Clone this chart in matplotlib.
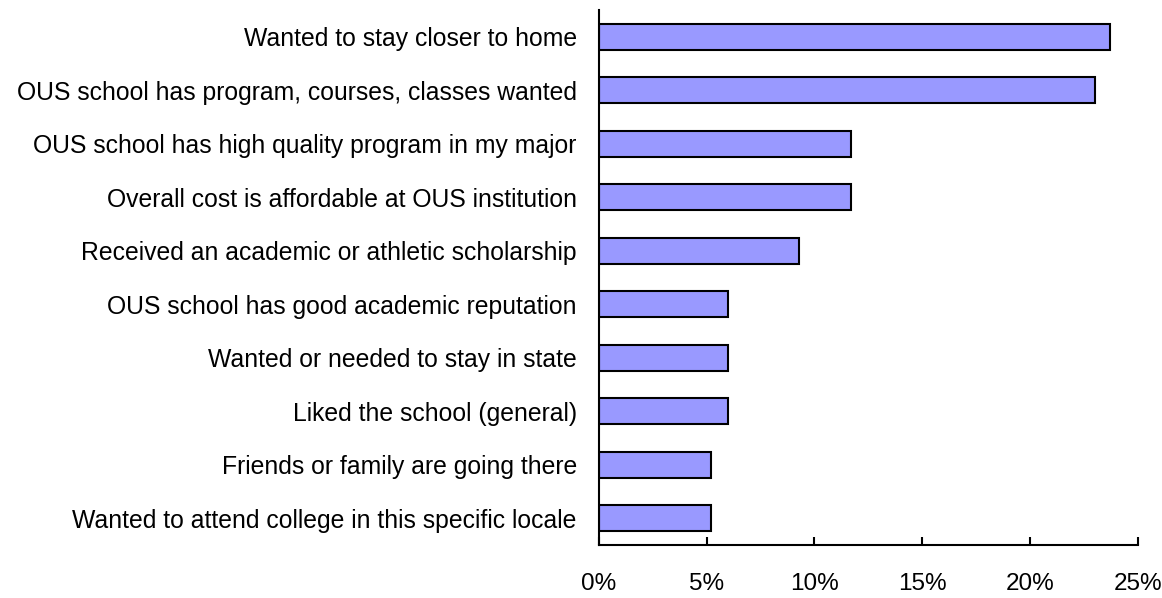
import matplotlib.pyplot as plt
from matplotlib.ticker import FuncFormatter

plt.rcParams['font.family'] = ['Liberation Sans', 'DejaVu Sans']

reasons = [
    "Wanted to stay closer to home",
    "OUS school has program, courses, classes wanted",
    "OUS school has high quality program in my major",
    "Overall cost is affordable at OUS institution",
    "Received an academic or athletic scholarship",
    "OUS school has good academic reputation",
    "Wanted or needed to stay in state",
    "Liked the school (general)",
    "Friends or family are going there",
    "Wanted to attend college in this specific locale",
]
percents = [23.7, 23.0, 11.7, 11.7, 9.3, 6.0, 6.0, 6.0, 5.2, 5.2]
x_ticks = [0, 5, 10, 15, 20, 25]

fig = plt.figure(figsize=(11.62, 5.98), dpi=100)
ax = fig.add_axes([0.5155, 0.0886, 0.4635, 0.8946])

ypos = list(range(len(reasons)))[::-1]
ax.barh(ypos, percents, height=0.48, color="#9999FF", edgecolor="black", linewidth=1.5)

ax.set_ylim(-0.5, len(reasons) - 0.5)
ax.set_xlim(0, 25)
ax.set_yticks(ypos)
ax.set_yticklabels(reasons, fontsize=17.8)
ax.tick_params(axis="y", length=0, pad=16)
ax.set_xticks(x_ticks)
ax.xaxis.set_major_formatter(FuncFormatter(lambda v, p: f"{v:.0f}%"))
ax.tick_params(axis="x", direction="in", length=6, width=1.5, pad=20, labelsize=17.5)

for side in ["top", "right"]:
    ax.spines[side].set_visible(False)
for side in ["left", "bottom"]:
    ax.spines[side].set_linewidth(1.5)

plt.savefig("out.png", dpi=100)
plt.close()
